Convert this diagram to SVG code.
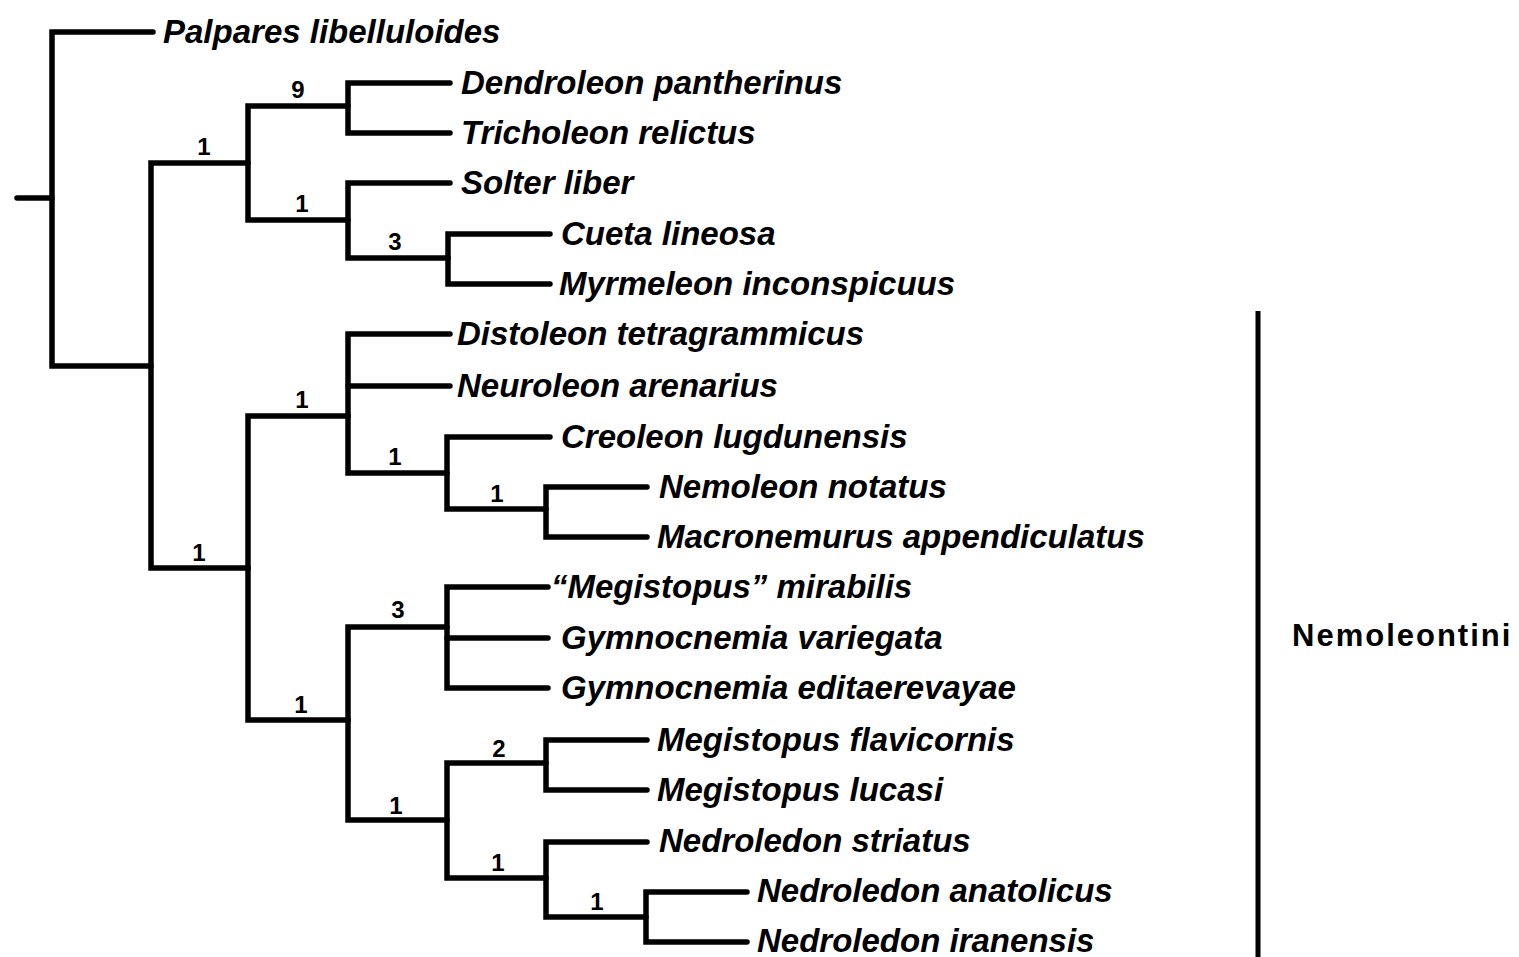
<svg xmlns="http://www.w3.org/2000/svg" width="1519" height="957" viewBox="0 0 1519 957">
<style>
.br{fill:none;stroke:#000;stroke-width:5.5;stroke-linecap:round;stroke-linejoin:miter}
.tx{font-family:"Liberation Sans",Arial,sans-serif;font-weight:bold;font-style:italic;font-size:33px;fill:#000}
.sp{font-family:"Liberation Sans",Arial,sans-serif;font-weight:bold;font-size:24px;fill:#000;text-anchor:middle}
.cl{font-family:"Liberation Sans",Arial,sans-serif;font-weight:bold;font-size:31px;fill:#000;letter-spacing:2px}
</style>
<rect width="1519" height="957" fill="#fff"/>
<g id="connectors">
<path class="br" d="M17,198 H52"/>
<path class="br" d="M153,32 H52 V366 H151"/>
<path class="br" d="M248,163 H151 V568 H248"/>
<path class="br" d="M348,106 H248 V220 H348"/>
<path class="br" d="M450,83 H348 V133 H450"/>
<path class="br" d="M450,183 H348 V258 H448"/>
<path class="br" d="M550,234 H448 V284 H550"/>
<path class="br" d="M348,416 H248 V720 H348"/>
<path class="br" d="M450,334 H348 V473 H447"/>
<path class="br" d="M348,386 H450"/>
<path class="br" d="M550,437 H447 V509 H546"/>
<path class="br" d="M647,487 H546 V537 H647"/>
<path class="br" d="M447,627 H348 V820 H447"/>
<path class="br" d="M548,587 H447 V688 H548"/>
<path class="br" d="M447,638 H548"/>
<path class="br" d="M546,763 H447 V878 H546"/>
<path class="br" d="M647,740 H546 V790 H647"/>
<path class="br" d="M647,842 H546 V917 H646"/>
<path class="br" d="M747,892 H646 V942 H747"/>
<path d="M1258,311 V957" stroke="#000" stroke-width="5" fill="none"/>
</g>
<g id="support">
<text class="sp" x="204" y="155">1</text>
<text class="sp" x="298" y="98">9</text>
<text class="sp" x="302" y="212">1</text>
<text class="sp" x="395" y="250">3</text>
<text class="sp" x="199" y="561">1</text>
<text class="sp" x="302" y="408">1</text>
<text class="sp" x="395" y="465">1</text>
<text class="sp" x="497" y="502">1</text>
<text class="sp" x="301" y="713">1</text>
<text class="sp" x="398" y="618">3</text>
<text class="sp" x="396" y="814">1</text>
<text class="sp" x="499" y="757">2</text>
<text class="sp" x="498" y="871">1</text>
<text class="sp" x="597" y="910">1</text>
</g>
<g id="taxa">
<text id="t1" class="tx" x="163" y="43">Palpares libelluloides</text>
<text id="t2" class="tx" x="461" y="94">Dendroleon pantherinus</text>
<text id="t3" class="tx" x="461" y="144">Tricholeon relictus</text>
<text id="t4" class="tx" x="461" y="194">Solter liber</text>
<text id="t5" class="tx" x="561" y="245">Cueta lineosa</text>
<text id="t6" class="tx" x="559" y="295">Myrmeleon inconspicuus</text>
<text id="t7" class="tx" x="457" y="345">Distoleon tetragrammicus</text>
<text id="t8" class="tx" x="457" y="397">Neuroleon arenarius</text>
<text id="t9" class="tx" x="561" y="448">Creoleon lugdunensis</text>
<text id="t10" class="tx" x="659" y="498">Nemoleon notatus</text>
<text id="t11" class="tx" x="657" y="548">Macronemurus appendiculatus</text>
<text id="t12" class="tx" x="551" y="598">“Megistopus” mirabilis</text>
<text id="t13" class="tx" x="561" y="649">Gymnocnemia variegata</text>
<text id="t14" class="tx" x="561" y="699">Gymnocnemia editaerevayae</text>
<text id="t15" class="tx" x="657" y="751">Megistopus flavicornis</text>
<text id="t16" class="tx" x="657" y="801">Megistopus lucasi</text>
<text id="t17" class="tx" x="659" y="852">Nedroledon striatus</text>
<text id="t18" class="tx" x="757" y="902">Nedroledon anatolicus</text>
<text id="t19" class="tx" x="757" y="952">Nedroledon iranensis</text>
</g>
<g id="clade">
<text class="cl" x="1292" y="646">Nemoleontini</text>
</g>
</svg>
